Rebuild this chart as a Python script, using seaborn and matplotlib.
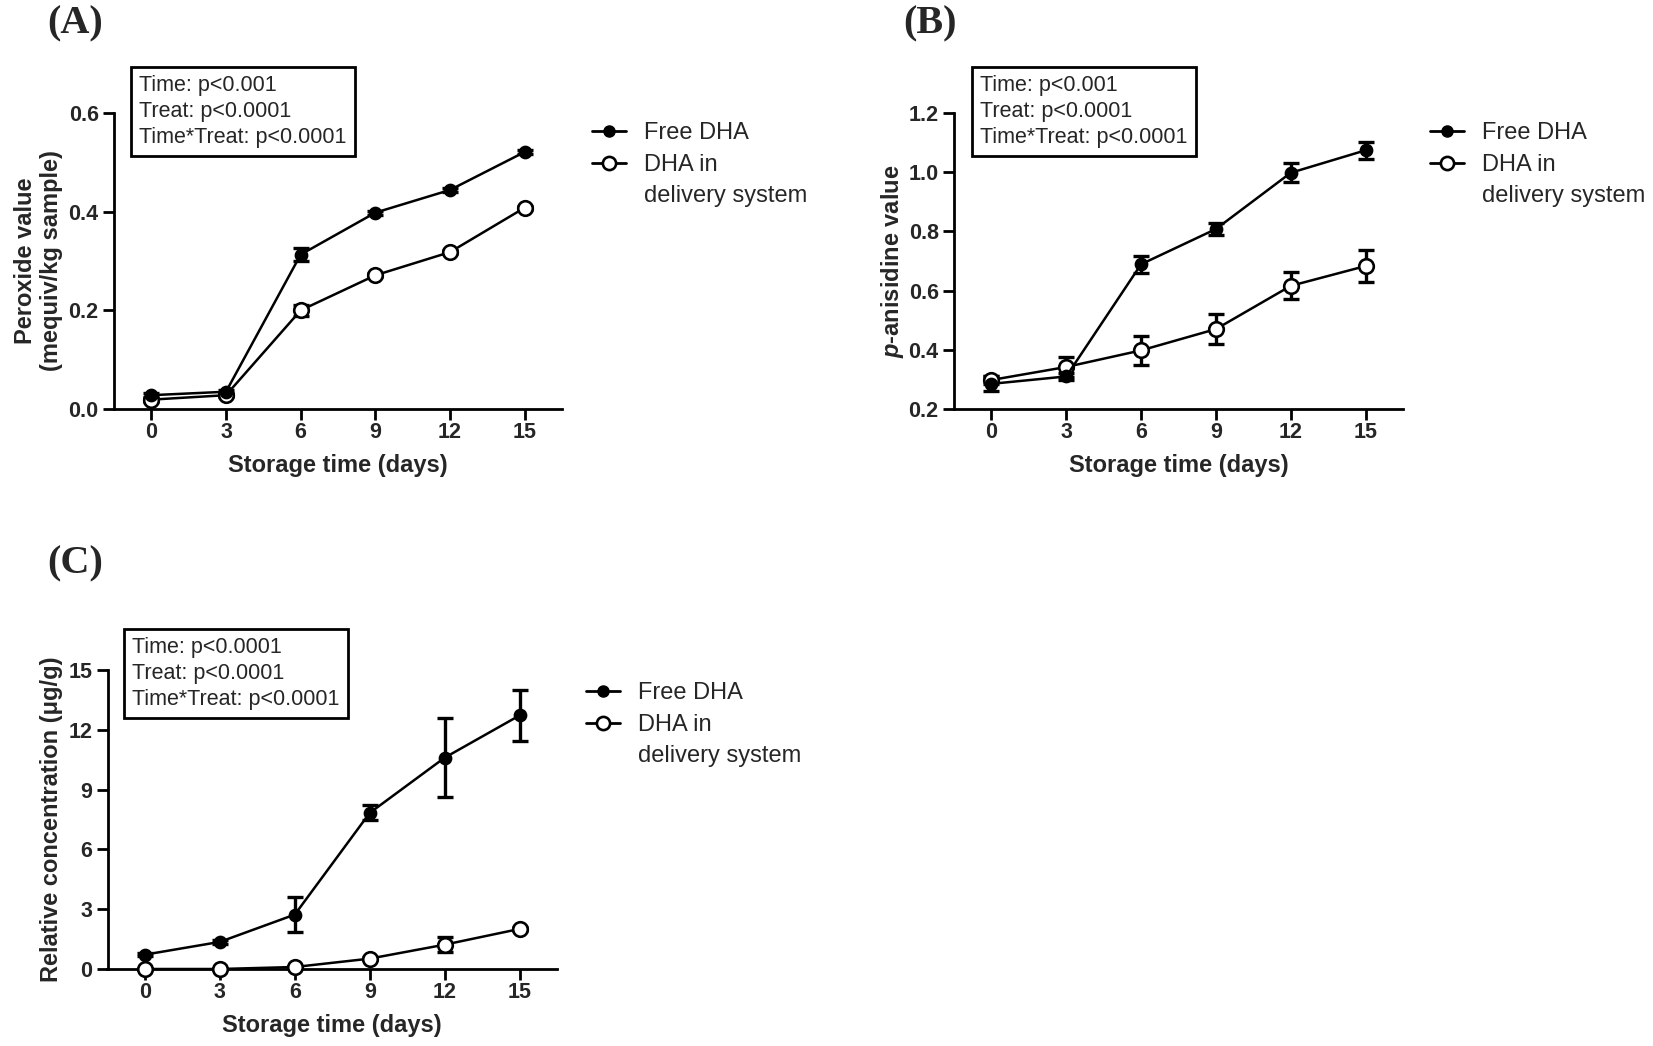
import numpy as np
import pandas as pd
import seaborn as sns
import matplotlib
matplotlib.use("Agg")
from matplotlib import pyplot as plt
from matplotlib.lines import Line2D

days = [0, 3, 6, 9, 12, 15]

# (A) peroxide value
pv_free = [0.028, 0.035, 0.313, 0.398, 0.444, 0.521]
pv_free_err = [0.004, 0.004, 0.013, 0.004, 0.004, 0.004]
pv_deliv = [0.019, 0.028, 0.200, 0.271, 0.318, 0.408]
pv_deliv_err = [0.004, 0.004, 0.011, 0.004, 0.004, 0.004]

# (B) p-anisidine value
av_free = [0.285, 0.310, 0.689, 0.808, 0.998, 1.074]
av_free_err = [0.025, 0.012, 0.028, 0.020, 0.032, 0.028]
av_deliv = [0.298, 0.342, 0.398, 0.470, 0.616, 0.683]
av_deliv_err = [0.012, 0.035, 0.048, 0.050, 0.046, 0.054]

# (C) relative concentration
rc_free = [0.72, 1.36, 2.73, 7.83, 10.6, 12.72]
rc_free_err = [0.08, 0.10, 0.89, 0.38, 1.97, 1.28]
rc_deliv = [0.0, 0.0, 0.10, 0.52, 1.22, 2.01]
rc_deliv_err = [0.02, 0.02, 0.05, 0.06, 0.37, 0.10]

series_names = ["Free DHA", "DHA in delivery system"]
stats_A = "Time: p<0.001\nTreat: p<0.0001\nTime*Treat: p<0.0001"
stats_B = "Time: p<0.001\nTreat: p<0.0001\nTime*Treat: p<0.0001"
stats_C = "Time: p<0.0001\nTreat: p<0.0001\nTime*Treat: p<0.0001"

sns.set_style("white")
plt.rcParams['font.family'] = ['Liberation Sans', 'DejaVu Sans']
plt.rcParams['mathtext.fontset'] = 'custom'
plt.rcParams['mathtext.it'] = 'Liberation Sans:italic:bold'
plt.rcParams['mathtext.rm'] = 'Liberation Sans:bold'

W, H = 1653, 1046
fig = plt.figure(figsize=(W / 100, H / 100), dpi=100)


def px_axes(left, right, top, bottom):
    return fig.add_axes([left / W, 1 - bottom / H, (right - left) / W, (bottom - top) / H])


def panel(ax, free, free_err, deliv, deliv_err, ylim, yticks, yfmt, ylabel, ylab_x, stats, box_xy,
          letter, letter_xy, leg_xy):
    df = pd.DataFrame({
        "day": days * 2,
        "value": free + deliv,
        "err": free_err + deliv_err,
        "group": [series_names[0]] * 6 + [series_names[1]] * 6,
    })
    for name, face, ms in [(series_names[1], "white", 10.5), (series_names[0], "black", 8)]:
        sub = df[df.group == name]
        ax.errorbar(sub.day, sub.value, yerr=sub.err, fmt="none", ecolor="black",
                    elinewidth=2.4, capsize=6, capthick=2.4, zorder=2, clip_on=False)
        sns.lineplot(data=sub, x="day", y="value", ax=ax, color="black", lw=1.8,
                     marker="o", markersize=ms, markerfacecolor=face, markeredgecolor="black",
                     markeredgewidth=1.9, zorder=3, clip_on=False, legend=False)
    ax.set_xlim(-1.5, 16.5)
    ax.set_ylim(*ylim)
    ax.set_xticks(days)
    ax.set_yticks(yticks)
    ax.set_yticklabels([yfmt.format(t) for t in yticks])
    sns.despine(ax=ax)
    for s in ["left", "bottom"]:
        ax.spines[s].set_linewidth(2.0)
        ax.spines[s].set_color("black")
    ax.tick_params(axis="both", direction="out", length=8, width=2.0, color="black",
                   labelsize=15.5, pad=3, left=True, bottom=True)
    ax.tick_params(axis="x", pad=1.5)
    for lab in ax.get_xticklabels() + ax.get_yticklabels():
        lab.set_fontweight("bold")
    ax.set_xlabel("Storage time (days)", fontsize=17, fontweight="bold")
    ax.xaxis.set_label_coords(0.5, -0.152)
    ax.set_ylabel(ylabel, fontsize=17, fontweight="bold", linespacing=1.15)
    ax.yaxis.set_label_coords(ylab_x, 0.5)
    ax.text(box_xy[0] / W, 1 - box_xy[1] / H, stats, transform=fig.transFigure,
            fontsize=15.5, va="top", ha="left", linespacing=1.3,
            bbox=dict(boxstyle="square,pad=0.38", fc="white", ec="black", lw=2))
    fig.text(letter_xy[0] / W, 1 - letter_xy[1] / H, letter, fontsize=29, fontweight="bold",
             family="Liberation Serif", va="top", ha="left")
    handles = [
        Line2D([], [], color="black", lw=2, marker="o", ms=8, mfc="black", mec="black"),
        Line2D([], [], color="black", lw=2, marker="o", ms=9.5, mfc="white", mec="black", mew=1.9),
        Line2D([], [], color="none"),
    ]
    ax.legend(handles, ["Free DHA", "DHA in", "delivery system"], loc="upper left",
              bbox_to_anchor=(leg_xy[0] / W, 1 - leg_xy[1] / H), bbox_transform=fig.transFigure,
              frameon=False, fontsize=17, handlelength=1.4, handletextpad=0.8, labelspacing=0.4,
              borderaxespad=0)


axA = px_axes(114, 562, 113, 409)
panel(axA, pv_free, pv_free_err, pv_deliv, pv_deliv_err, (0, 0.6), [0.0, 0.2, 0.4, 0.6], "{:.1f}",
      "Peroxide value\n(mequiv/kg sample)", -0.114, stats_A, (139, 75), "(A)", (47, 5), (583, 113))

axB = px_axes(954, 1403, 113, 409)
panel(axB, av_free, av_free_err, av_deliv, av_deliv_err, (0.2, 1.2), [0.2, 0.4, 0.6, 0.8, 1.0, 1.2], "{:.1f}",
      "$\\mathit{p}$-anisidine value", -0.108, stats_B, (980, 75), "(B)", (903, 5), (1421, 113))

axC = px_axes(107.5, 557, 670, 969)
panel(axC, rc_free, rc_free_err, rc_deliv, rc_deliv_err, (0, 15), [0, 3, 6, 9, 12, 15], "{:d}",
      "Relative concentration (\u03bcg/g)", -0.098, stats_C, (132, 637), "(C)", (47, 545), (577, 673))

plt.savefig("out.png", dpi=100)
